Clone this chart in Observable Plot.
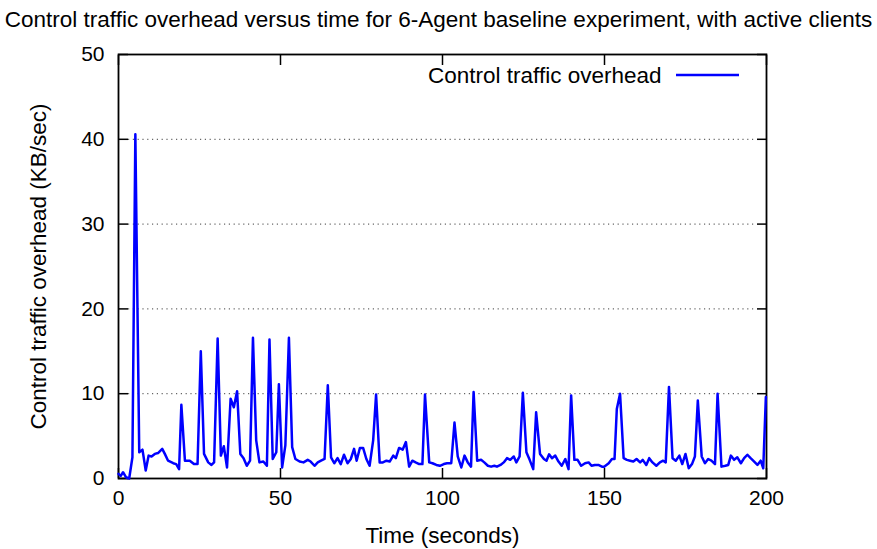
<!DOCTYPE html>
<html>
<head>
<meta charset="utf-8">
<script src="https://cdn.jsdelivr.net/npm/d3@7"></script>
<script src="https://cdn.jsdelivr.net/npm/@observablehq/plot@0.6"></script>
<style>
  html, body { margin: 0; padding: 0; background: #fff; }
  #title { width: 877px; height: 40px; line-height: 40px; text-align: center; font-family: "Liberation Sans", Arial, sans-serif; font-size: 22.5px; color: #000; white-space: nowrap; }
  #chart svg { overflow: visible; }
</style>
</head>
<body>
<div id="title">Control traffic overhead versus time for 6-Agent baseline experiment, with active clients</div>
<div id="chart"></div>
<script>
const titleText = "Control traffic overhead versus time for 6-Agent baseline experiment, with active clients";
const seriesName = "Control traffic overhead";
const xLabel = "Time (seconds)";
const yLabel = "Control traffic overhead (KB/sec)";
const xTicks = [0, 50, 100, 150, 200];
const yTicks = [0, 10, 20, 30, 40, 50];
const gridTicks = [10, 20, 30, 40];

const times = [0, 0.7, 1.4, 2.3, 3.3, 4.3, 5.2, 6.4, 7.4, 8.4, 9.3, 10.2, 11.2, 12.2, 13.5, 14.3, 15.3, 16.9, 17.8, 18.7,
  19.4, 20.5, 22.0, 23.3, 24.4, 25.4, 26.4, 27.7, 28.7, 29.5, 30.6, 31.6, 32.5, 33.5, 34.6, 35.6, 36.6, 37.6, 38.6, 39.6,
  40.6, 41.5, 42.5, 43.5, 44.7, 45.8, 46.6, 47.6, 48.7, 49.5, 50.5, 51.5, 52.6, 53.6, 54.6, 55.9, 57.1, 58.4, 59.3, 60.5,
  61.5, 62.5, 63.6, 64.6, 65.6, 66.6, 67.6, 68.6, 69.6, 70.7, 71.7, 72.7, 73.5, 74.5, 75.5, 76.5, 77.5, 78.6, 79.5, 80.6,
  81.6, 82.7, 83.7, 84.8, 85.6, 86.6, 87.7, 88.7, 89.7, 90.7, 91.7, 92.8, 93.8, 94.6, 95.9, 96.9, 98.1, 99.2, 100.4, 101.4,
  102.7, 103.7, 104.7, 105.8, 106.8, 107.8, 108.8, 109.6, 110.7, 111.9, 112.9, 114.0, 115.0, 116.0, 116.8, 117.9, 118.9, 119.9, 120.9, 122.0,
  122.8, 123.8, 124.8, 125.9, 126.9, 128.0, 128.9, 130.1, 131.3, 132.1, 132.9, 133.8, 134.8, 135.8, 136.8, 137.9, 138.9, 139.7, 140.7, 141.7,
  142.8, 144.0, 145.1, 146.0, 147.0, 148.1, 149.2, 149.9, 151.3, 152.3, 153.1, 153.8, 154.8, 155.9, 156.9, 157.9, 158.9, 159.9, 161.0, 161.8,
  162.9, 163.8, 164.8, 166.0, 167.1, 168.1, 168.9, 169.9, 171.0, 172.0, 173.1, 174.0, 175.0, 176.0, 177.0, 177.9, 178.8, 180.0, 181.0, 182.0,
  183.0, 184.1, 184.9, 186.1, 187.3, 188.2, 189.0, 190.0, 191.0, 192.1, 193.1, 194.1, 195.1, 196.2, 197.2, 198.2, 199.0, 199.8];
const overhead = [0.55, 0.3, 0.74, 0.15, 0.0, 2.5, 40.6, 3.1, 3.4, 0.94, 2.7, 2.6, 2.9, 3.0, 3.5, 2.9, 2.1, 1.8, 1.7, 1.1,
  8.7, 2.1, 2.1, 1.7, 1.7, 15.0, 2.9, 1.9, 1.6, 1.9, 16.5, 2.7, 3.8, 1.3, 9.4, 8.4, 10.3, 2.9, 2.4, 1.5,
  2.1, 16.6, 4.5, 1.9, 2.0, 1.5, 16.4, 2.3, 3.1, 11.1, 1.3, 3.9, 16.6, 3.7, 2.3, 2.0, 1.9, 2.2, 2.0, 1.5,
  1.9, 2.1, 2.3, 11.0, 2.5, 1.8, 2.4, 1.7, 2.8, 1.8, 2.3, 3.5, 2.1, 3.6, 3.6, 2.3, 1.5, 4.5, 9.9, 1.9,
  1.9, 2.1, 2.0, 2.7, 2.4, 3.6, 3.4, 4.3, 1.4, 2.1, 1.9, 1.7, 1.7, 9.9, 1.9, 1.8, 1.6, 1.5, 1.7, 1.8,
  1.8, 6.6, 2.6, 1.3, 2.7, 1.9, 1.4, 10.2, 2.1, 2.2, 1.9, 1.5, 1.4, 1.5, 1.4, 1.6, 1.9, 2.4, 2.2, 2.6,
  1.9, 2.6, 10.1, 3.1, 2.2, 1.1, 7.8, 2.9, 2.3, 2.1, 2.85, 2.4, 2.7, 2.0, 1.5, 2.3, 1.1, 9.8, 2.2, 2.2,
  1.5, 1.8, 1.9, 1.5, 1.6, 1.6, 1.4, 1.4, 1.8, 2.3, 2.3, 8.2, 10.0, 2.4, 2.2, 2.1, 2.0, 2.3, 1.9, 2.2,
  1.6, 2.4, 1.9, 1.5, 1.9, 2.1, 1.9, 10.8, 2.4, 2.1, 2.7, 1.7, 2.9, 1.2, 1.7, 2.6, 9.2, 2.6, 1.8, 2.3,
  2.1, 1.7, 10.0, 1.4, 1.5, 1.6, 2.7, 2.2, 2.5, 1.8, 2.4, 2.8, 2.4, 2.0, 1.6, 2.1, 1.2, 9.6];

const data = times.map((t, i) => ({time: t, value: overhead[i]}));

const FONT = '"Liberation Sans", Arial, sans-serif';

function legendLine(index, scales, values, dimensions) {
  const {width, marginRight, marginTop} = dimensions;
  const x2 = width - marginRight - 27, x1 = x2 - 63, y = marginTop + 21;
  const line = d3.create("svg:line")
    .attr("x1", x1).attr("x2", x2).attr("y1", y).attr("y2", y)
    .attr("stroke", "#0000ff").attr("stroke-width", 2.5);
  return line.node();
}

const chart = Plot.plot({
  width: 877,
  height: 509,
  marginTop: 14,
  marginBottom: 71,
  marginLeft: 118,
  marginRight: 111,
  style: {fontFamily: FONT, fontSize: "21px", color: "#000", background: "#fff", overflow: "visible"},
  x: {domain: [0, 200], label: null},
  y: {domain: [0, 50], label: null},
  marks: [
    Plot.gridY(gridTicks, {stroke: "#000", strokeOpacity: 0.75, strokeDasharray: "1.2,3.6", strokeWidth: 1, insetLeft: 10, insetRight: 10}),
    Plot.axisX(xTicks, {anchor: "bottom", tickSize: -10, text: null, strokeWidth: 1.5, label: null}),
    Plot.axisX(xTicks, {anchor: "top", tickSize: -10, text: null, strokeWidth: 1.5, label: null}),
    Plot.axisX(xTicks, {anchor: "bottom", tickSize: 0, tickPadding: 12, label: null, fontSize: 21}),
    Plot.axisY(yTicks, {anchor: "left", tickSize: -10, text: null, strokeWidth: 1.5, label: null}),
    Plot.axisY(yTicks, {anchor: "right", tickSize: -10, text: null, strokeWidth: 1.5, label: null}),
    Plot.axisY(yTicks, {anchor: "left", tickSize: 0, tickPadding: 14, label: null, fontSize: 21}),
    Plot.frame({stroke: "#000", strokeWidth: 1.8}),
    Plot.line(data, {x: "time", y: "value", stroke: "#0000ff", strokeWidth: 2.5}),
    Plot.text([xLabel], {frameAnchor: "bottom", dy: 64, fontSize: 22.5, fill: "#000"}),
    Plot.text([yLabel], {frameAnchor: "left", textAnchor: "middle", lineAnchor: "middle", rotate: -90, dx: -80, fontSize: 22.5, fill: "#000"}),
    Plot.text([seriesName], {frameAnchor: "top-right", textAnchor: "end", lineAnchor: "middle", dx: -105, dy: 21, fontSize: 22.5, fill: "#000"}),
    legendLine
  ]
});
document.getElementById("chart").appendChild(chart);
</script>
</body>
</html>
